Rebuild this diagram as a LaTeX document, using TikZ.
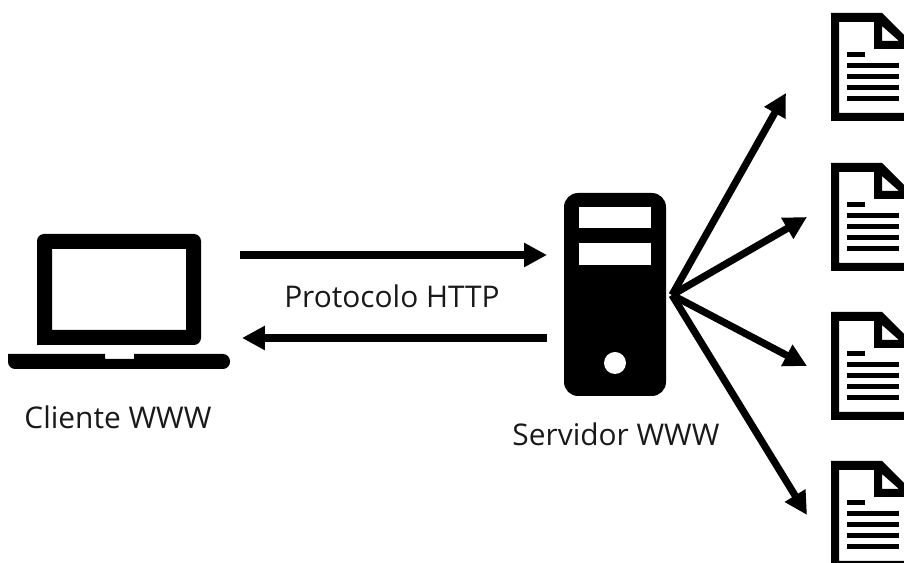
\documentclass[tikz,border=0pt]{standalone}
\usepackage{fontspec}
\setmainfont{Open Sans}
\usetikzlibrary{arrows.meta}
\tikzset{
	flow/.style={line width=7.2pt*0.569, -{Triangle[length=13pt, width=13pt]}},
	caption/.style={font=\fontsize{17}{20}\selectfont, text=black!90},
	doc/.pic={
		\fill[even odd rule] (831,0) -- (882,0) -- (912,30) -- (912,108) -- (831,108) -- cycle
			(839,9) -- (874,9) -- (874,36) -- (904,36) -- (904,100) -- (839,100) -- cycle
			(882,13) -- (899,28) -- (882,28) -- cycle;
		\fill (847,39) rectangle (865,44);
		\foreach \y in {50,61,72,83}
			\fill (847,\y) rectangle (899,\y+5.5);
	}
}
\begin{document}
\begin{tikzpicture}[x=0.02cm, y=-0.02cm]
	\useasboundingbox (0,0) rectangle (904,563);
	\clip (0,0) rectangle (904,563);

	% laptop
	\fill[even odd rule, rounded corners=4pt] (37,345) -- (37,234) -- (201,234) -- (201,345) [sharp corners] -- cycle
		(52,249) rectangle (186,330);
	\fill[rounded corners=4pt] (8,354) -- (8,369) -- (230,369) -- (230,354) [sharp corners] -- (134,354) -- (134,359) -- (105,359) -- (105,354) -- cycle;

	% server
	\fill[rounded corners=8pt] (564,193) rectangle (666,396);
	\fill[white] (579,207) rectangle (651,228);
	\fill[white] (579,243) rectangle (651,265);
	\fill[white] (615,363) circle (11);

	% documents
	\foreach \y in {13,163,312,461}
		\pic at (0,\y) {doc};

	\coordinate (C1) at (240,255);
	\coordinate (S1) at (547,255);
	\coordinate (S2) at (547,338);
	\coordinate (C2) at (242,338);
	\coordinate (F) at (672,295);
	\coordinate (D1) at (786,93);
	\coordinate (D2) at (807,217);
	\coordinate (D3) at (807,366);
	\coordinate (D4) at (807,515);

	\draw[flow] (C1) -- (S1);
	\draw[flow] (S2) -- (C2);
	\draw[flow] (F) -- (D1);
	\draw[flow] (F) -- (D2);
	\draw[flow] (F) -- (D3);
	\draw[flow] (F) -- (D4);

	\node[caption] (cliente) at (118,417) {Cliente WWW};
	\node[caption] (protocolo) at (392,296) {Protocolo HTTP};
	\node[caption] (servidor) at (616,434) {Servidor WWW};
\end{tikzpicture}
\end{document}
